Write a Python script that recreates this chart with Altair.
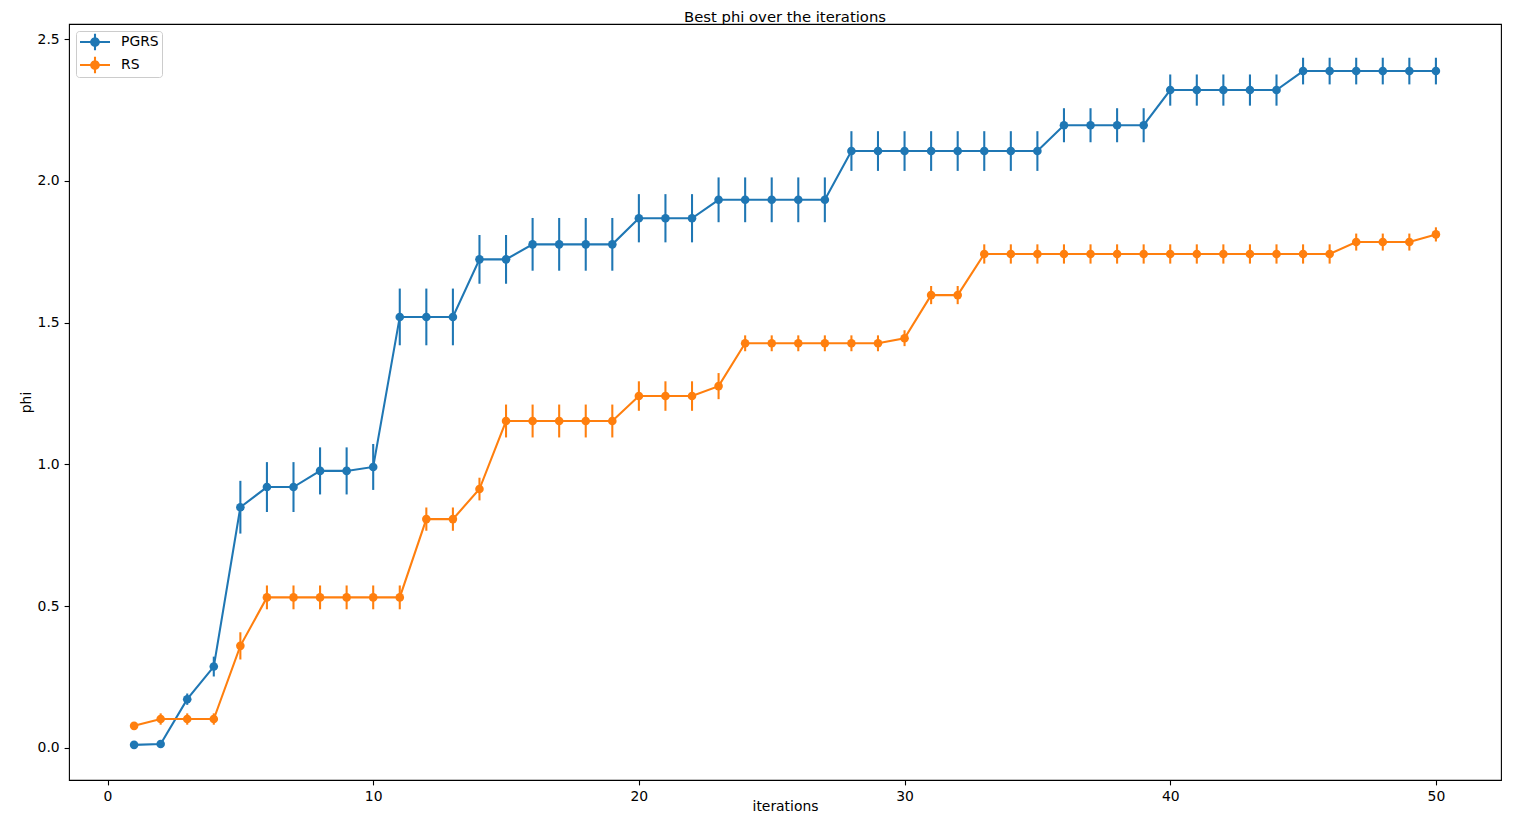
import altair as alt
import pandas as pd

iterations = list(range(1, 51))

pgrs_phi = [0.011, 0.014, 0.172, 0.287, 0.849, 0.920, 0.920, 0.977, 0.977, 0.991,
            1.520, 1.520, 1.520, 1.723, 1.723, 1.776, 1.776, 1.776, 1.776, 1.868,
            1.868, 1.868, 1.933, 1.933, 1.933, 1.933, 1.933, 2.105, 2.105, 2.105,
            2.105, 2.105, 2.105, 2.105, 2.105, 2.196, 2.196, 2.196, 2.196, 2.320,
            2.320, 2.320, 2.320, 2.320, 2.387, 2.387, 2.387, 2.387, 2.387, 2.387]
pgrs_err = [0.004, 0.005, 0.020, 0.035, 0.093, 0.088, 0.088, 0.083, 0.083, 0.081,
            0.100, 0.100, 0.100, 0.086, 0.086, 0.093, 0.093, 0.093, 0.093, 0.085,
            0.085, 0.085, 0.079, 0.079, 0.079, 0.079, 0.079, 0.070, 0.070, 0.070,
            0.070, 0.070, 0.070, 0.070, 0.070, 0.060, 0.060, 0.060, 0.060, 0.055,
            0.055, 0.055, 0.055, 0.055, 0.047, 0.047, 0.047, 0.047, 0.047, 0.047]

rs_phi = [0.078, 0.102, 0.102, 0.102, 0.360, 0.531, 0.531, 0.531, 0.531, 0.531,
          0.531, 0.807, 0.807, 0.913, 1.153, 1.153, 1.153, 1.153, 1.153, 1.241,
          1.241, 1.241, 1.276, 1.427, 1.427, 1.427, 1.427, 1.427, 1.427, 1.445,
          1.597, 1.597, 1.742, 1.742, 1.742, 1.742, 1.742, 1.742, 1.742, 1.742,
          1.742, 1.742, 1.742, 1.742, 1.742, 1.742, 1.784, 1.784, 1.784, 1.811]
rs_err = [0.005, 0.020, 0.020, 0.020, 0.048, 0.042, 0.042, 0.042, 0.042, 0.042,
          0.042, 0.041, 0.041, 0.040, 0.058, 0.058, 0.058, 0.058, 0.058, 0.052,
          0.052, 0.052, 0.046, 0.028, 0.028, 0.028, 0.028, 0.028, 0.028, 0.028,
          0.032, 0.032, 0.034, 0.034, 0.034, 0.034, 0.034, 0.034, 0.034, 0.034,
          0.034, 0.034, 0.034, 0.034, 0.034, 0.034, 0.030, 0.030, 0.030, 0.025]

series_names = ["PGRS", "RS"]
series_colors = ["#1f77b4", "#ff7f0e"]

rows = []
for name, vals, errs in [("PGRS", pgrs_phi, pgrs_err), ("RS", rs_phi, rs_err)]:
    for it, v, e in zip(iterations, vals, errs):
        rows.append({"iteration": it, "series": name, "phi": v,
                     "lo": v - e, "hi": v + e})
df = pd.DataFrame(rows)

# errorbar-style legend handle drawn as filled shapes: line, vertical bar, dot
legend_path = ("M-1.875,-0.13H1.875V0.13H-1.875Z"
               "M-0.13,-1.04H0.13V1.04H-0.13Z"
               "M-0.606,0A0.606,0.606,0,1,1,0.606,0A0.606,0.606,0,1,1,-0.606,0Z")

legend = alt.Legend(
    title=None, orient="top-left", offset=7, padding=3,
    fillColor="white", strokeColor="#cccccc", cornerRadius=3,
    symbolType=legend_path, symbolSize=256, symbolStrokeWidth=0,
    symbolOpacity=1, symbolOffset=8, labelOffset=18, rowPadding=5,
    labelFont="DejaVu Sans", labelFontSize=13.9, labelColor="black",
)

x_enc = alt.X("iteration:Q", title="iterations",
              scale=alt.Scale(domain=[-1.45, 52.45], nice=False, zero=False),
              axis=alt.Axis(values=[0, 10, 20, 30, 40, 50],
                            titleBaseline="alphabetic", titleY=30.5))
y_scale = alt.Scale(domain=[-0.113, 2.553], nice=False, zero=False)
y_axis = alt.Axis(values=[0.0, 0.5, 1.0, 1.5, 2.0, 2.5], format=".1f")
color_scale = alt.Scale(domain=series_names, range=series_colors)
color_leg = alt.Color("series:N", scale=color_scale, legend=legend)

base = alt.Chart(df)
layers = []
for name, col in zip(series_names, series_colors):
    sub = base.transform_filter(alt.datum.series == name)
    layers.append(sub.mark_rule(strokeWidth=2.08).encode(
        x=x_enc, y=alt.Y("lo:Q", title="phi", scale=y_scale, axis=y_axis),
        y2="hi:Q", color=alt.value(col)))
    layers.append(sub.mark_line(strokeWidth=2.08).encode(
        x=x_enc, y=alt.Y("phi:Q", title="phi", scale=y_scale, axis=y_axis),
        color=alt.value(col)))
    layers.append(sub.mark_circle(size=74, opacity=1).encode(
        x=x_enc, y=alt.Y("phi:Q", title="phi", scale=y_scale, axis=y_axis),
        color=color_leg))

chart = alt.layer(*layers).properties(
    width=1432, height=756,
    title=alt.TitleParams("Best phi over the iterations", font="DejaVu Sans",
                          fontSize=14.8, fontWeight="normal", color="black",
                          anchor="middle", frame="group", offset=-0.5),
    autosize=alt.AutoSizeParams(type="none"),
    padding={"left": 61, "top": 16, "right": 15, "bottom": 34},
).configure_view(
    stroke="black", strokeWidth=1.1
).configure_axis(
    grid=False, domain=False,
    labelFont="DejaVu Sans", labelFontSize=13.9, labelColor="black",
    tickColor="black", tickSize=4.9, tickWidth=1.1, labelPadding=4.9,
    titleFont="DejaVu Sans", titleFontSize=13.9, titleFontWeight="normal",
    titleColor="black", titlePadding=4,
)

chart.save("out.html", embed_options={"renderer": "svg", "actions": False})
